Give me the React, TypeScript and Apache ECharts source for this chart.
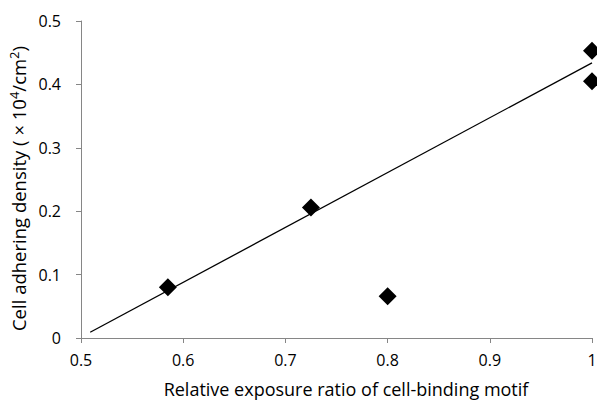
import React, { useEffect, useRef } from "react";
import * as echarts from "echarts";

const exposureRatio = [0.585, 0.725, 0.8, 1.0, 1.0];
const adheringDensity = [0.08, 0.206, 0.066, 0.453, 0.405];
const trendX = [0.509, 1.0];
const trendY = [0.009, 0.434];
const xTicks = [0.5, 0.6, 0.7, 0.8, 0.9, 1];
const yTicks = [0, 0.1, 0.2, 0.3, 0.4, 0.5];

const FONT = "'Open Sans', 'Liberation Sans', sans-serif";

export default function App() {
  const ref = useRef<HTMLDivElement>(null);
  useEffect(() => {
    if (!ref.current) return;
    const chart = echarts.init(ref.current, undefined, { renderer: "svg" });
    const axisColor = "#868686";
    chart.setOption({
      animation: false,
      backgroundColor: "#ffffff",
      grid: { left: 81, right: 5, top: 21, bottom: 65, outerBoundsMode: "none", containLabel: false },
      xAxis: {
        type: "value",
        min: xTicks[0],
        max: xTicks[xTicks.length - 1],
        interval: 0.1,
        name: "Relative exposure ratio of cell-binding motif",
        nameLocation: "middle",
        nameGap: 39,
        nameTextStyle: { fontFamily: FONT, fontSize: 18, color: "#000", padding: [0, 0, 0, 19], lineHeight: 24 },
        axisLine: { show: true, lineStyle: { color: axisColor, width: 1 } },
        axisTick: { show: true, length: 5, lineStyle: { color: axisColor } },
        axisLabel: {
          fontFamily: FONT,
          fontSize: 16,
          color: "#000",
          margin: 14,
          formatter: (v: number) => String(Math.round(v * 10) / 10),
        },
        splitLine: { show: false },
      },
      yAxis: {
        type: "value",
        min: yTicks[0],
        max: yTicks[yTicks.length - 1],
        interval: 0.1,
        name: "Cell adhering density ( × 10{sup|4}/cm{sup|2})",
        nameLocation: "middle",
        nameGap: 40,
        nameTextStyle: {
          fontFamily: FONT,
          fontSize: 18.5,
          color: "#000",
          padding: [0, 18, 0, 0],
          rich: {
            sup: { fontFamily: FONT, fontSize: 13, color: "#000", verticalAlign: "top", lineHeight: 22 },
          },
        },
        axisLine: { show: true, lineStyle: { color: axisColor, width: 1 } },
        axisTick: { show: true, length: 5, lineStyle: { color: axisColor } },
        axisLabel: {
          fontFamily: FONT,
          fontSize: 16,
          color: "#000",
          margin: 20,
          formatter: (v: number) => String(Math.round(v * 10) / 10),
        },
        splitLine: { show: false },
      },
      series: [
        {
          type: "line",
          data: trendX.map((x, i) => [x, trendY[i]]),
          symbol: "none",
          lineStyle: { color: "#000", width: 1.3 },
          silent: true,
          z: 1,
        },
        {
          type: "scatter",
          data: exposureRatio.map((x, i) => [x, adheringDensity[i]]),
          symbol: "diamond",
          symbolSize: 18,
          itemStyle: { color: "#000", opacity: 1 },
          z: 2,
        },
      ],
    });
    return () => chart.dispose();
  }, []);
  return <div ref={ref} style={{ width: 597, height: 403, position: "absolute", left: 0, top: 0 }} />;
}
